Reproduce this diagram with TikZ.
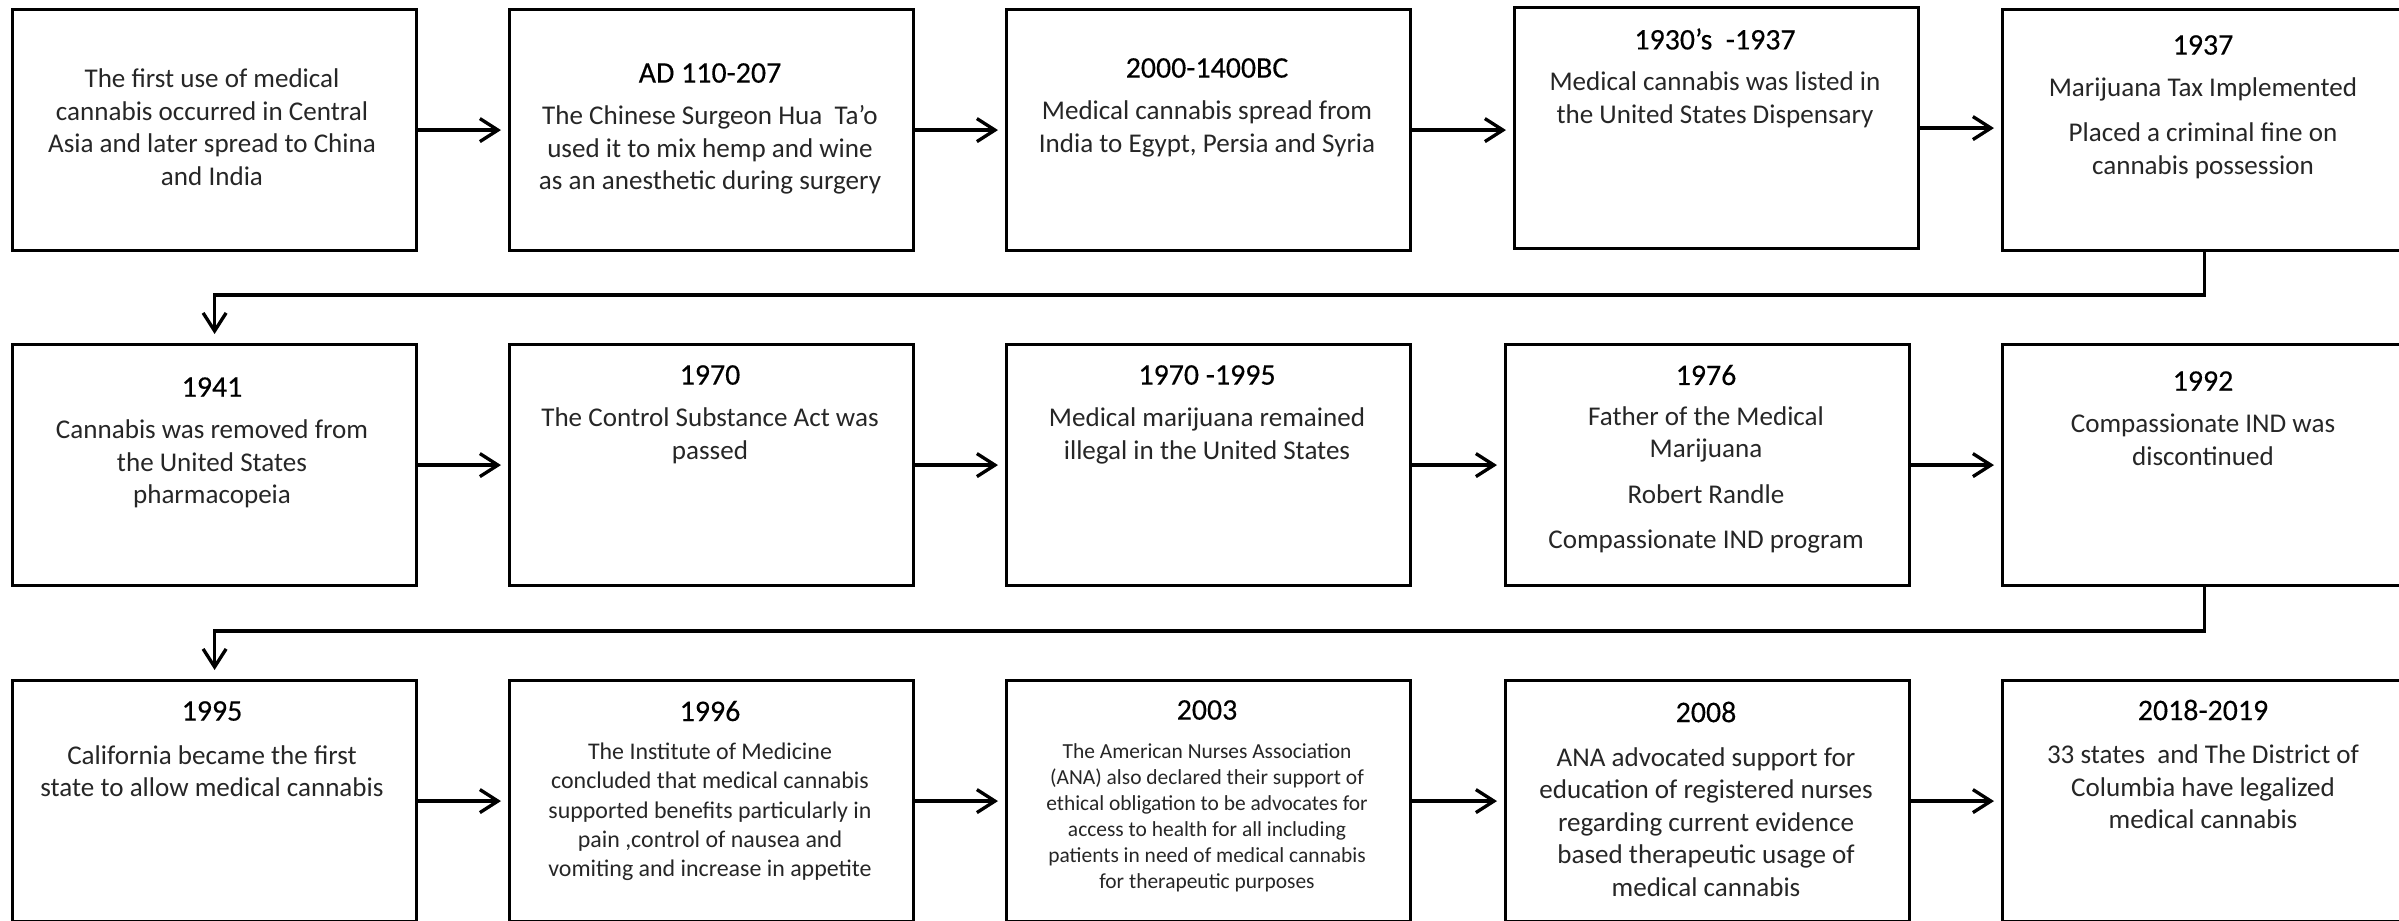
\documentclass[tikz,border=0pt]{standalone}
\usepackage{fontspec}
\setmainfont{Carlito}
\newfontfamily\yearfont[FakeBold=0.3]{Carlito}
\usetikzlibrary{arrows.meta}

\begin{document}
\begin{tikzpicture}[x=0.01cm, y=-0.01cm,
  event/.style={draw, line width=0.85pt, minimum width=4.04cm, minimum height=2.41cm,
                inner sep=0pt, anchor=north west},
  year/.style={font=\yearfont\fontsize{8.5}{10}\selectfont, inner sep=0pt},
  body/.style={font=\fontsize{7.7}{9.25}\selectfont, text=black!85, align=center, inner sep=0pt},
  flow/.style={-{Straight Barb[length=1.8mm, width=2.3mm]}, line width=0.95pt, shorten >=0.7mm},
  turn/.style={flow, shorten >=0.9mm}]

\useasboundingbox (0,0) rectangle (2399,920);
\clip (0,0) rectangle (2399,920);

% ============================================================
% ROW 1
% ============================================================
\node[event] (b11) at (11,8) {};
\node[event] (b12) at (508,8) {};
\node[event] (b13) at (1005,8) {};
\node[event] (b14) at (1513,6) {};
\node[event] (b15) at (2001,8) {};

\node[body] (t11) at (212,127) {The first use of medical\\cannabis occurred in Central\\Asia and later spread to China\\and India};

\node[year] (y12) at (710,73) {AD 110-207};
\node[body] (t12) at (710,150) {The Chinese Surgeon Hua\ \ Ta’o\\used it to mix hemp and wine\\as an anesthetic during surgery};

\node[year] (y13) at (1207,68) {2000-1400BC};
\node[body] (t13) at (1207,129) {Medical cannabis spread from\\India to Egypt, Persia and Syria};

\node[year] (y14) at (1715,39) {1930’s\ \ -1937};
\node[body] (t14) at (1715,100) {Medical cannabis was listed in\\the United States Dispensary};

\node[year] (y15) at (2203,45) {1937};
\node[body] (t15) at (2203,128) {Marijuana Tax Implemented\\[3.8pt]Placed a criminal fine on\\cannabis possession};

% arrows
\draw[flow] (b11) -- (b12);
\draw[flow] (b12) -- (b13);
\draw[flow] (b13.east) -- (b13.east -| b14.west);
\draw[flow] (b14.east) -- (b14.east -| b15.west);

% ============================================================
% ROW 2
% ============================================================
\node[event] (b21) at (11,343) {};
\node[event] (b22) at (508,343) {};
\node[event] (b23) at (1005,343) {};
\node[event] (b24) at (1504,343) {};
\node[event] (b25) at (2001,343) {};

% turn down from row 1
\coordinate (r1) at (0,295);
\draw[turn] (b15.south) -- (b15.south |- r1) -| (b21.north);

\node[year] (y21) at (212,387) {1941};
\node[body] (t21) at (212,464) {Cannabis was removed from\\the United States\\pharmacopeia};

\node[year] (y22) at (710,375) {1970};
\node[body] (t22) at (710,436) {The Control Substance Act was\\passed};

\node[year] (y23) at (1207,375) {1970 -1995};
\node[body] (t23) at (1207,436) {Medical marijuana remained\\illegal in the United States};

\node[year] (y24) at (1706,375) {1976};
\node[body] (t24) at (1706,480) {Father of the Medical\\Marijuana\\[3.7pt]Robert Randle\\[3.7pt]Compassionate IND program};

\node[year] (y25) at (2203,381) {1992};
\node[body] (t25) at (2203,440) {Compassionate IND was\\discontinued};

\draw[flow] (b21) -- (b22);
\draw[flow] (b22) -- (b23);
\draw[flow] (b23) -- (b24);
\draw[flow] (b24) -- (b25);

% ============================================================
% ROW 3
% ============================================================
\node[event] (b31) at (11,679) {};
\node[event] (b32) at (508,679) {};
\node[event] (b33) at (1005,679) {};
\node[event] (b34) at (1504,679) {};
\node[event] (b35) at (2001,679) {};

% turn down from row 2
\coordinate (r2) at (0,631);
\draw[turn] (b25.south) -- (b25.south |- r2) -| (b31.north);

\node[year] (y31) at (212,711) {1995};
\node[body] (t31) at (212,771) {California became the first\\state to allow medical cannabis};

\node[year] (y32) at (710,711) {1996};
\node[body, font=\fontsize{6.8}{8.35}\selectfont] (t32) at (710,812) {The Institute of Medicine\\concluded that medical cannabis\\supported benefits particularly in\\pain ,control of nausea and\\vomiting and increase in appetite};

\node[year] (y33) at (1207,710) {2003};
\node[body, font=\fontsize{6.1}{7.4}\selectfont] (t33) at (1207,818) {The American Nurses Association\\(ANA) also declared their support of\\ethical obligation to be advocates for\\access to health for all including\\patients in need of medical cannabis\\for therapeutic purposes};

\node[year] (y34) at (1706,712) {2008};
\node[body] (t34) at (1706,822) {ANA advocated support for\\education of registered nurses\\regarding current evidence\\based therapeutic usage of\\medical cannabis};

\node[year] (y35) at (2203,710) {2018-2019};
\node[body] (t35) at (2203,787) {33 states\ \ and The District of\\Columbia have legalized\\medical cannabis};

\draw[flow] (b31) -- (b32);
\draw[flow] (b32) -- (b33);
\draw[flow] (b33) -- (b34);
\draw[flow] (b34) -- (b35);

\end{tikzpicture}
\end{document}
